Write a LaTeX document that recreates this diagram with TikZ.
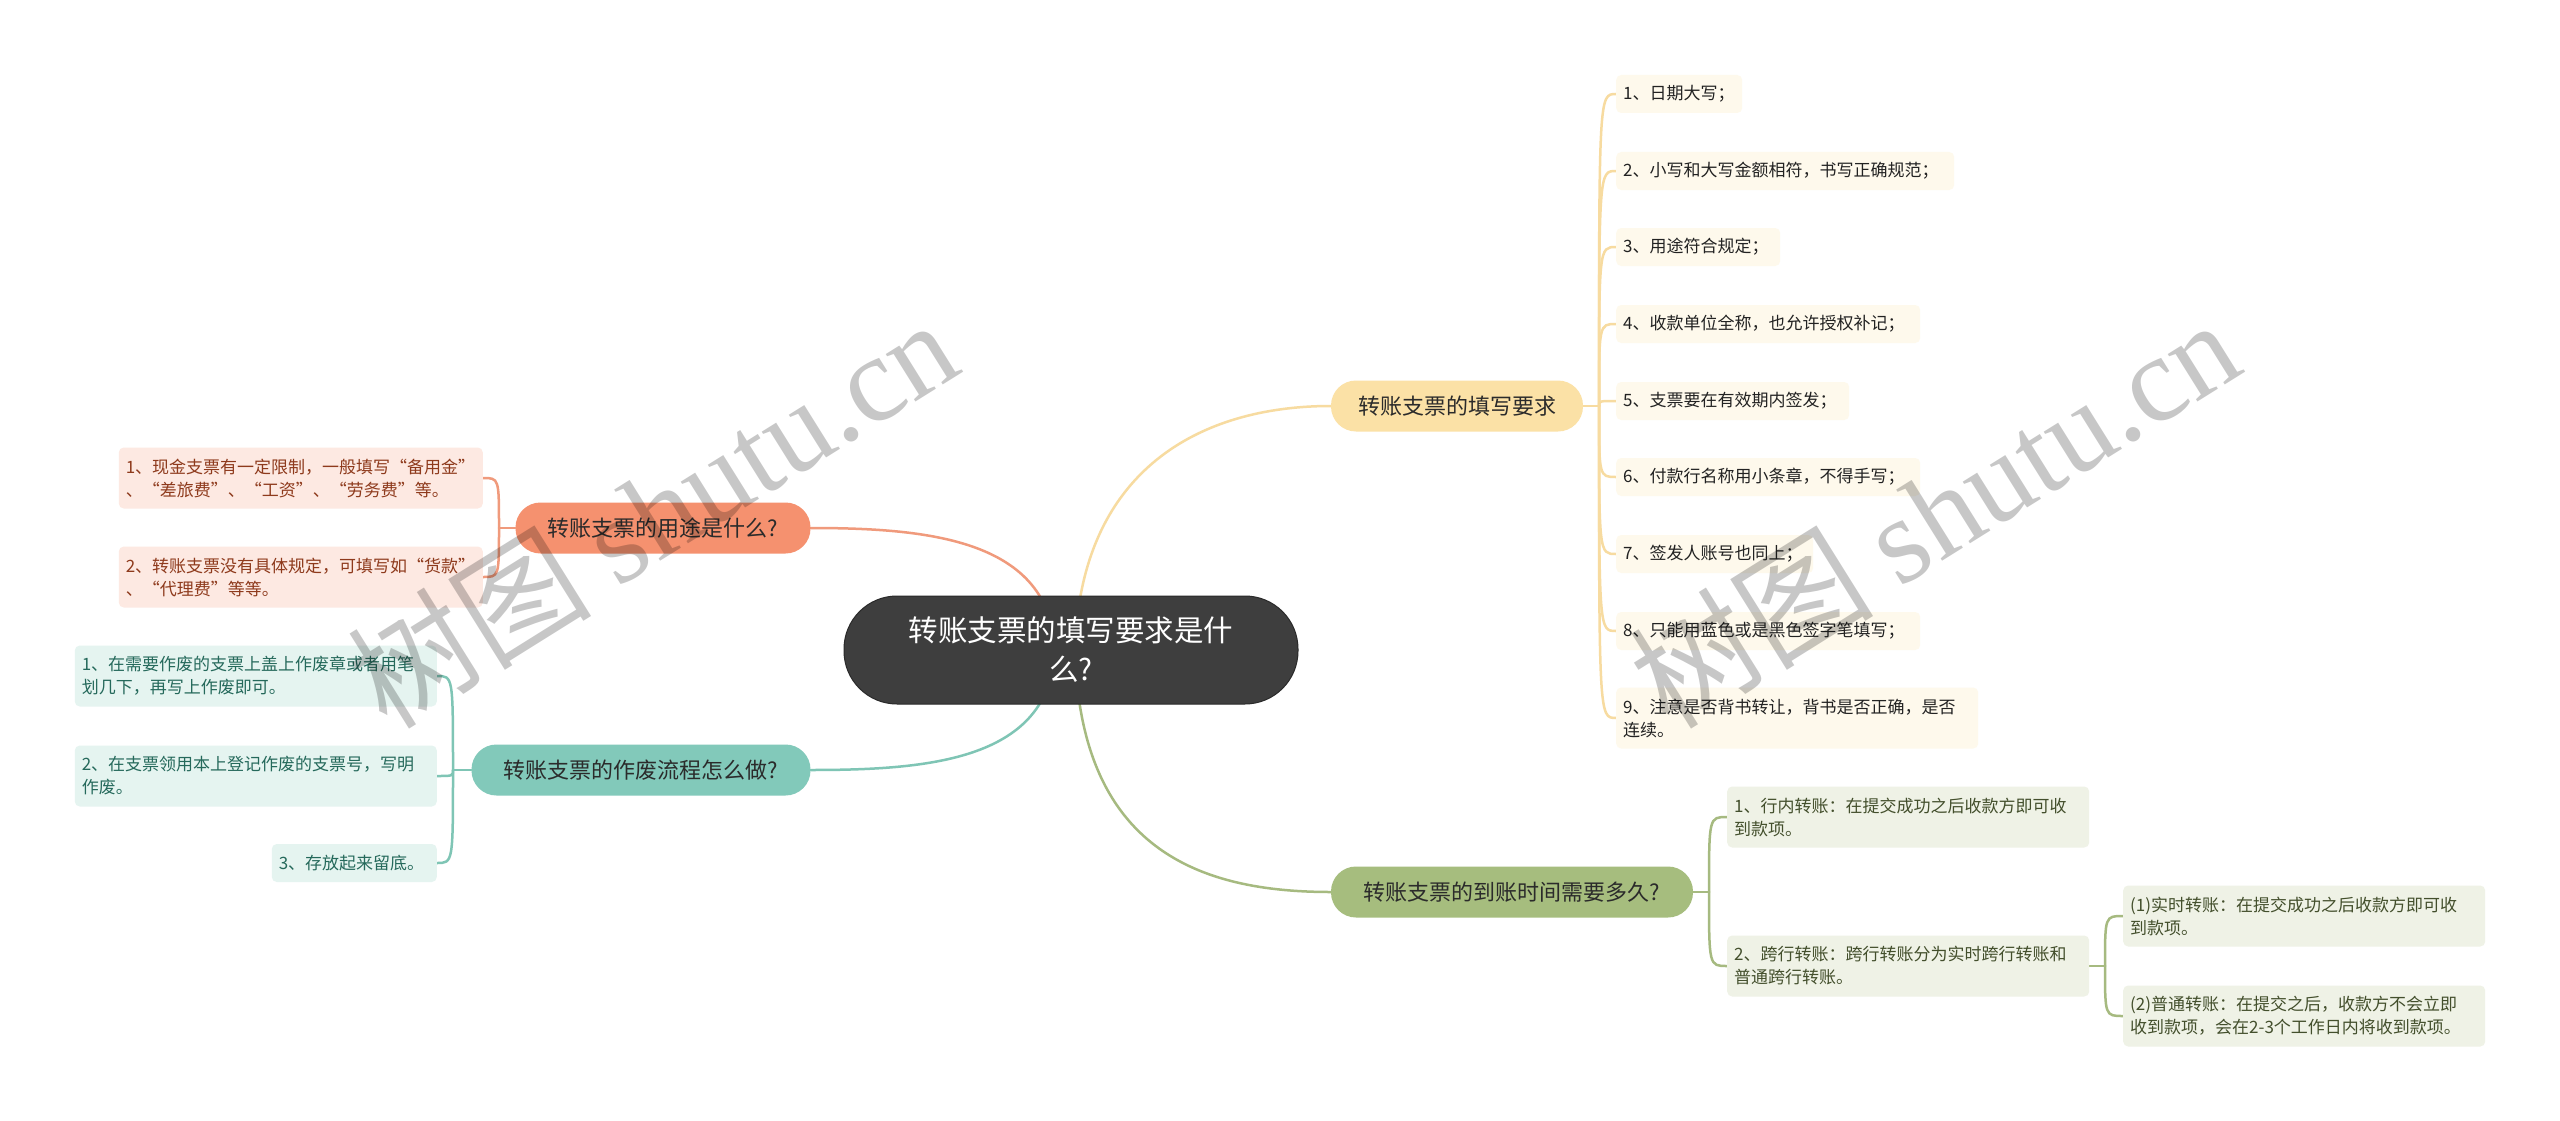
\documentclass[tikz,border=0pt]{standalone}
\usepackage{fontspec}
\setmainfont{Noto Sans CJK SC}
\newfontfamily\wmlatin{Liberation Serif}
\usetikzlibrary{backgrounds}
\definecolor{cfill}{HTML}{3E3E3E}
\definecolor{cdraw}{HTML}{2A2A2A}
\definecolor{ybfill}{HTML}{FBE1A6}
\definecolor{yline}{HTML}{F7DBA0}
\definecolor{ylfill}{HTML}{FEF9EC}
\definecolor{yltext}{HTML}{222222}
\definecolor{obfill}{HTML}{F5916F}
\definecolor{oline}{HTML}{F09A7C}
\definecolor{olfill}{HTML}{FDE9E2}
\definecolor{oltext}{HTML}{8E3A1C}
\definecolor{tbfill}{HTML}{82C9BA}
\definecolor{tline}{HTML}{7FC5B5}
\definecolor{tlfill}{HTML}{E5F4F0}
\definecolor{tltext}{HTML}{25695B}
\definecolor{gbfill}{HTML}{A6BD7E}
\definecolor{gline}{HTML}{A6BA80}
\definecolor{glfill}{HTML}{EFF2E6}
\definecolor{gltext}{HTML}{434F2C}
\definecolor{btext}{HTML}{2B2B2B}
\tikzset{
  leafbase/.style={rounded corners=5pt, inner xsep=7pt, inner ysep=0pt, align=left,
    font=\fontsize{17}{23}\selectfont},
  oneline/.style={minimum height=38pt},
  twoline/.style={minimum height=61pt},
  yleaf/.style={leafbase, fill=ylfill, text=yltext},
  oleaf/.style={leafbase, fill=olfill, text=oltext},
  tleaf/.style={leafbase, fill=tlfill, text=tltext},
  gleaf/.style={leafbase, fill=glfill, text=gltext},
  branch/.style={rounded corners=25pt, minimum height=51pt, inner sep=0pt,
    font=\fontsize{22}{26}\selectfont, text=btext},
  conn/.style={line width=2.5pt, line cap=round},
  wmark/.style={rotate=32, text=black, text opacity=0.22, inner sep=0pt,
    font=\fontsize{122}{122}\selectfont},
}
\begin{document}
\begin{tikzpicture}[x=1pt, y=-1pt]
\useasboundingbox (0,0) rectangle (2560,1121);

% central
\node[fill=cfill, draw=cdraw, line width=1pt, rounded corners=53pt, minimum width=454pt,
  minimum height=108pt, inner sep=0pt, text=white, align=center, text width=380pt,
  font=\fontsize{29.5}{39}\selectfont] (c) at (1071,650) {转账支票的填写要求是什\\么?};

% branches
\node[branch, fill=ybfill, minimum width=252pt] (yb) at (1457,406) {转账支票的填写要求};
\node[branch, fill=obfill, minimum width=295pt] (ob) at (663,528) {转账支票的用途是什么?};
\node[branch, fill=tbfill, minimum width=339pt] (tb) at (641,770) {转账支票的作废流程怎么做?};
\node[branch, fill=gbfill, minimum width=362pt] (gb) at (1512,892) {转账支票的到账时间需要多久?};

% yellow leaves
\node[yleaf, oneline, text width=112pt, anchor=west] (y1) at (1616,94) {1、日期大写；};
\node[yleaf, oneline, text width=324pt, anchor=west] (y2) at (1616,171) {2、小写和大写金额相符，书写正确规范；};
\node[yleaf, oneline, text width=150pt, anchor=west] (y3) at (1616,247) {3、用途符合规定；};
\node[yleaf, oneline, text width=290pt, anchor=west] (y4) at (1616,324) {4、收款单位全称，也允许授权补记；};
\node[yleaf, oneline, text width=219pt, anchor=west] (y5) at (1616,401) {5、支票要在有效期内签发；};
\node[yleaf, oneline, text width=290pt, anchor=west] (y6) at (1616,477) {6、付款行名称用小条章，不得手写；};
\node[yleaf, oneline, text width=183pt, anchor=west] (y7) at (1616,554) {7、签发人账号也同上；};
\node[yleaf, oneline, text width=290pt, anchor=west] (y8) at (1616,631) {8、只能用蓝色或是黑色签字笔填写；};
\node[yleaf, twoline, text width=348pt, anchor=west] (y9) at (1616,718) {9、注意是否背书转让，背书是否正确，是否\\连续。};

% orange leaves
\node[oleaf, twoline, text width=350pt, anchor=east] (o1) at (483,478) {1、现金支票有一定限制，一般填写“备用金”\\、“差旅费”、“工资”、“劳务费”等。};
\node[oleaf, twoline, text width=350pt, anchor=east] (o2) at (483,577) {2、转账支票没有具体规定，可填写如“货款”\\、“代理费”等等。};

% teal leaves
\node[tleaf, twoline, text width=348pt, anchor=east] (t1) at (437,676) {1、在需要作废的支票上盖上作废章或者用笔\\划几下，再写上作废即可。};
\node[tleaf, twoline, text width=348pt, anchor=east] (t2) at (437,776) {2、在支票领用本上登记作废的支票号，写明\\作废。};
\node[tleaf, oneline, text width=151pt, anchor=east] (t3) at (437,863) {3、存放起来留底。};

% green leaves
\node[gleaf, twoline, text width=348pt, anchor=west] (g1) at (1727,817) {1、行内转账：在提交成功之后收款方即可收\\到款项。};
\node[gleaf, twoline, text width=348pt, anchor=west] (g2) at (1727,966) {2、跨行转账：跨行转账分为实时跨行转账和\\普通跨行转账。};
\node[gleaf, twoline, text width=348pt, anchor=west] (s1) at (2123,916) {(1)实时转账：在提交成功之后收款方即可收\\到款项。};
\node[gleaf, twoline, text width=348pt, anchor=west] (s2) at (2123,1016) {(2)普通转账：在提交之后，收款方不会立即\\收到款项，会在2-3个工作日内将收到款项。};

% junction points
\coordinate (yj) at (1599,406);
\coordinate (oj) at (499,528);
\coordinate (tj) at (453,770);
\coordinate (gj) at (1709,892);
\coordinate (sj) at (2105,966);
\coordinate (cou) at (1055,650);
\coordinate (cyu) at (1075,650);

\begin{scope}[on background layer]
  \fill[white] (0,0) rectangle (2560,1121);
  % central to branches
  \draw[conn, oline] (cou) .. controls (1050,540) and (930,528) .. (ob.east);
  \draw[conn, yline] (cyu) .. controls (1080,470) and (1200,406) .. (yb.west);
  \draw[conn, tline] (cou) .. controls (1050,760) and (930,770) .. (tb.east);
  \draw[conn, gline] (cyu) .. controls (1080,850) and (1200,892) .. (gb.west);
  % yellow
  \draw[conn, yline] (yb.east) -- (yj);
  \foreach \n in {y1,y2,y3,y4,y5,y6,y7,y8,y9}
    \draw[conn, yline] (yj) .. controls (yj |- \n.west) and (yj |- \n.west) .. (\n.west);
  % orange
  \draw[conn, oline] (ob.west) -- (oj);
  \foreach \n in {o1,o2}
    \draw[conn, oline] (oj) .. controls (oj |- \n.east) and (oj |- \n.east) .. (\n.east);
  % teal
  \draw[conn, tline] (tb.west) -- (tj);
  \foreach \n in {t1,t2,t3}
    \draw[conn, tline] (tj) .. controls (tj |- \n.east) and (tj |- \n.east) .. (\n.east);
  % green
  \draw[conn, gline] (gb.east) -- (gj);
  \foreach \n in {g1,g2}
    \draw[conn, gline] (gj) .. controls (gj |- \n.west) and (gj |- \n.west) .. (\n.west);
  \draw[conn, gline] (g2.east) -- (sj);
  \foreach \n in {s1,s2}
    \draw[conn, gline] (sj) .. controls (sj |- \n.west) and (sj |- \n.west) .. (\n.west);
\end{scope}

% watermarks
\node[wmark] (wm1) at (652,512) {树图 {\wmlatin shutu.cn}};
\node[wmark] (wm2) at (1934,512) {树图 {\wmlatin shutu.cn}};
\end{tikzpicture}
\end{document}
